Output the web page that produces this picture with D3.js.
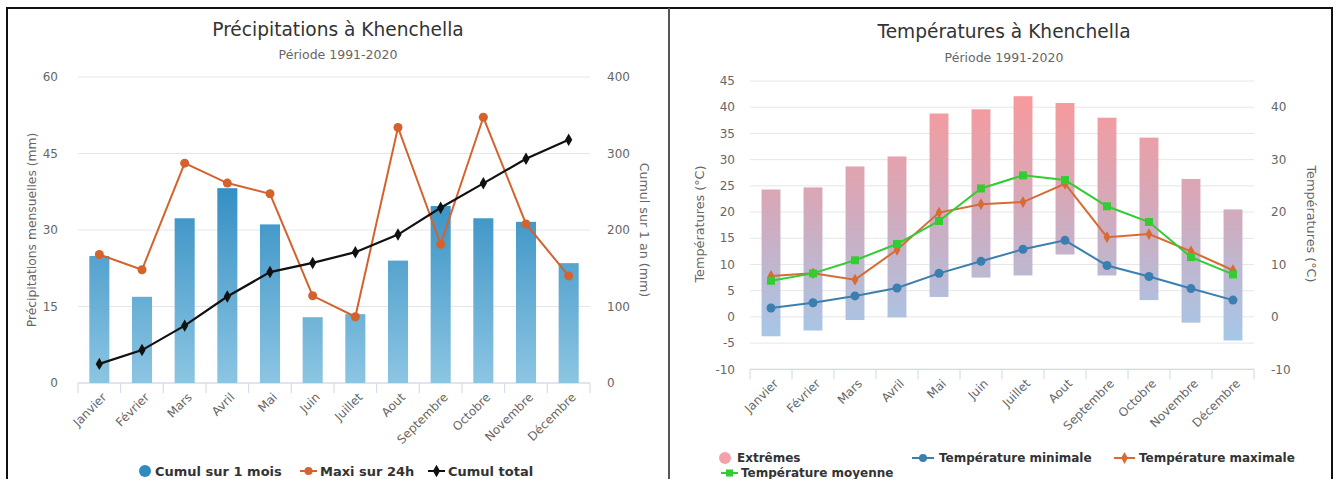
<!DOCTYPE html>
<html lang="fr">
<head>
<meta charset="utf-8">
<script src="https://cdn.jsdelivr.net/npm/d3@7"></script>
<style>
  html, body { margin: 0; padding: 0; background: #fff; }
  svg { display: block; font-family: "DejaVu Sans", Verdana, sans-serif; }
</style>
</head>
<body>
<svg id="chart" width="1339" height="479"></svg>
<script>
// Mois et valeurs climatiques de Khenchella (1991-2020)
const months = ["Janvier","Février","Mars","Avril","Mai","Juin","Juillet","Aout","Septembre","Octobre","Novembre","Décembre"];

// Précipitations (mm)
const cumulMois  = [24.9, 16.9, 32.3, 38.2, 31.1, 12.9, 13.5, 24.0, 34.7, 32.3, 31.6, 23.5];
const maxi24h    = [25.2, 22.2, 43.1, 39.2, 37.1, 17.1, 13.0, 50.1, 27.2, 52.1, 31.2, 21.0];
const cumulTotal = [25, 43, 75, 113, 145, 157, 171, 194, 229, 261, 293, 318];
const precipTicks = [0, 15, 30, 45, 60];
const cumulTicks  = [0, 100, 200, 300, 400];

// Températures (°C)
const extHigh = [24.3, 24.7, 28.7, 30.6, 38.8, 39.6, 42.1, 40.8, 38.0, 34.2, 26.3, 20.5];
const extLow  = [-3.7, -2.6, -0.6, -0.1, 3.8, 7.5, 7.9, 11.9, 7.9, 3.2, -1.1, -4.5];
const tMin    = [1.7, 2.7, 4.0, 5.5, 8.3, 10.6, 12.9, 14.6, 9.8, 7.7, 5.4, 3.2];
const tMax    = [7.8, 8.3, 7.1, 12.8, 19.9, 21.5, 21.9, 25.4, 15.2, 15.8, 12.5, 8.9];
const tMoy    = [6.9, 8.3, 10.8, 13.9, 18.3, 24.5, 27.0, 26.1, 21.1, 18.1, 11.4, 8.1];
const tempTicksLeft  = [-10, -5, 0, 5, 10, 15, 20, 25, 30, 35, 40, 45];
const tempTicksRight = [-10, 0, 10, 20, 30, 40];

const svg = d3.select("#chart");
const defs = svg.append("defs");

const C = {
  grid: "#e6e6e6", axis: "#ccd6eb", label: "#666", title: "#333",
  blue: "#3a8fc2", orange: "#d4622c", black: "#111",
  tMin: "#3b7fb0", tMax: "#d86a33", tMoy: "#33cc33", ext: "#f29ba2"
};

// Cadres des deux panneaux
svg.append("rect").attr("x", 7).attr("y", 8).attr("width", 662).attr("height", 480)
  .attr("fill", "none").attr("stroke", "#111").attr("stroke-width", 2);
svg.append("rect").attr("x", 669).attr("y", 8).attr("width", 663).attr("height", 480)
  .attr("fill", "none").attr("stroke", "#111").attr("stroke-width", 2);
svg.append("line").attr("x1", 669).attr("x2", 669).attr("y1", 8).attr("y2", 479)
  .attr("stroke", "#555").attr("stroke-width", 2);

function titles(cx, title, ty, sy) {
  svg.append("text").attr("x", cx).attr("y", ty).attr("text-anchor", "middle")
    .attr("font-size", 18.6).attr("fill", C.title).text(title);
  svg.append("text").attr("x", cx).attr("y", sy).attr("text-anchor", "middle")
    .attr("font-size", 12.5).attr("fill", C.label).text("Période 1991-2020");
}

function xAxis(x, y0) {
  const g = svg.append("g");
  const [r0, r1] = x.range();
  g.append("line").attr("x1", r0).attr("x2", r1).attr("y1", y0).attr("y2", y0)
    .attr("stroke", C.axis);
  const bounds = months.map(m => x(m)).concat([r1]);
  g.selectAll("line.tk").data(bounds).join("line").attr("class", "tk")
    .attr("x1", d => d).attr("x2", d => d).attr("y1", y0).attr("y2", y0 + 10)
    .attr("stroke", C.axis);
  g.selectAll("text").data(months).join("text")
    .attr("transform", d => `translate(${x(d) + x.bandwidth() / 2 + 5},${y0 + 12}) rotate(-45)`)
    .attr("text-anchor", "end").attr("font-size", 12).attr("fill", C.label)
    .attr("dy", "0.35em").text(d => d);
}

function grid(ticks, y, x) {
  const [r0, r1] = x.range();
  svg.append("g").selectAll("line").data(ticks).join("line")
    .attr("x1", r0).attr("x2", r1).attr("y1", d => y(d)).attr("y2", d => y(d))
    .attr("stroke", C.grid);
}

function yLabels(ticks, y, xPos, anchor) {
  svg.append("g").selectAll("text").data(ticks).join("text")
    .attr("x", xPos).attr("y", d => y(d)).attr("dy", "0.35em")
    .attr("text-anchor", anchor).attr("font-size", 12).attr("fill", C.label)
    .text(d => d);
}

function yTitle(cx, cy, rot, label, size) {
  svg.append("text").attr("transform", `translate(${cx},${cy}) rotate(${rot})`)
    .attr("text-anchor", "middle").attr("dy", "0.35em").attr("font-size", size)
    .attr("fill", C.label).text(label);
}

const diamond = d3.symbol().type(d3.symbolDiamond);
const square = d3.symbol().type(d3.symbolSquare);

/* ---------- Précipitations ---------- */
{
  const x = d3.scaleBand().domain(months).range([78, 590]);
  const y = d3.scaleLinear().domain([0, 60]).range([383, 77]);
  const y2 = d3.scaleLinear().domain([0, 400]).range([383, 77]);
  const cx = d => x(d) + x.bandwidth() / 2;

  titles(338, "Précipitations à Khenchella", 36, 59);
  grid(precipTicks, y, x);
  xAxis(x, 383);
  yLabels(precipTicks, y, 58, "end");
  yLabels(cumulTicks, y2, 607, "start");
  yTitle(32, 230, -90, "Précipitations mensuelles (mm)", 12.3);
  yTitle(644, 230, 90, "Cumul sur 1 an (mm)", 12.6);

  const gr = defs.append("linearGradient").attr("id", "gPrecip")
    .attr("gradientUnits", "userSpaceOnUse").attr("x1", 0).attr("x2", 0)
    .attr("y1", y(40)).attr("y2", y(0));
  gr.append("stop").attr("offset", 0).attr("stop-color", "#318dc2");
  gr.append("stop").attr("offset", 1).attr("stop-color", "#8cc5e2");

  const bw = x.bandwidth() * 0.47;
  svg.append("g").selectAll("rect").data(months).join("rect")
    .attr("x", (d) => cx(d) - bw / 2).attr("width", bw)
    .attr("y", (d, i) => y(cumulMois[i])).attr("height", (d, i) => y(0) - y(cumulMois[i]))
    .attr("fill", "url(#gPrecip)");

  const lineMaxi = d3.line().x((d, i) => cx(months[i])).y(d => y(d));
  svg.append("path").attr("d", lineMaxi(maxi24h)).attr("fill", "none")
    .attr("stroke", C.orange).attr("stroke-width", 2);
  svg.append("g").selectAll("circle").data(maxi24h).join("circle")
    .attr("cx", (d, i) => cx(months[i])).attr("cy", d => y(d)).attr("r", 4.5)
    .attr("fill", C.orange);

  const lineCumul = d3.line().x((d, i) => cx(months[i])).y(d => y2(d));
  svg.append("path").attr("d", lineCumul(cumulTotal)).attr("fill", "none")
    .attr("stroke", C.black).attr("stroke-width", 2.2);
  svg.append("g").selectAll("path").data(cumulTotal).join("path")
    .attr("transform", (d, i) => `translate(${cx(months[i])},${y2(d)})`)
    .attr("d", diamond.size(45)).attr("fill", C.black);

  // Légende
  const lg = svg.append("g").attr("font-size", 13).attr("font-weight", "bold").attr("fill", C.title);
  const ly = 471;
  lg.append("circle").attr("cx", 145).attr("cy", ly).attr("r", 6).attr("fill", "#2d8bc0");
  lg.append("text").attr("x", 155).attr("y", ly).attr("dy", "0.35em").text("Cumul sur 1 mois");
  lg.append("line").attr("x1", 300).attr("x2", 317).attr("y1", ly).attr("y2", ly)
    .attr("stroke", C.orange).attr("stroke-width", 2);
  lg.append("circle").attr("cx", 308.5).attr("cy", ly).attr("r", 4).attr("fill", C.orange);
  lg.append("text").attr("x", 320).attr("y", ly).attr("dy", "0.35em").text("Maxi sur 24h");
  lg.append("line").attr("x1", 428).attr("x2", 445).attr("y1", ly).attr("y2", ly)
    .attr("stroke", C.black).attr("stroke-width", 2);
  lg.append("path").attr("transform", `translate(436.5,${ly})`).attr("d", diamond.size(45)).attr("fill", C.black);
  lg.append("text").attr("x", 448).attr("y", ly).attr("dy", "0.35em").text("Cumul total");
}

/* ---------- Températures ---------- */
{
  const x = d3.scaleBand().domain(months).range([750, 1254]);
  const y = d3.scaleLinear().domain([-10, 45]).range([369.3, 81]);
  const cx = d => x(d) + x.bandwidth() / 2;

  titles(1004, "Températures à Khenchella", 38, 62);
  grid(tempTicksLeft, y, x);
  xAxis(x, y(-10));
  yLabels(tempTicksLeft, y, 735, "end");
  yLabels(tempTicksRight, y, 1271, "start");
  yTitle(700, 224, -90, "Températures (°C)", 12.8);
  yTitle(1311, 224, 90, "Températures (°C)", 12.8);

  const gr = defs.append("linearGradient").attr("id", "gExt")
    .attr("gradientUnits", "userSpaceOnUse").attr("x1", 0).attr("x2", 0)
    .attr("y1", y(42)).attr("y2", y(-5));
  gr.append("stop").attr("offset", 0).attr("stop-color", "#f79a9c");
  gr.append("stop").attr("offset", 0.45).attr("stop-color", "#d4a9bb");
  gr.append("stop").attr("offset", 1).attr("stop-color", "#a4c8e9");

  const bw = x.bandwidth() * 0.45;
  svg.append("g").selectAll("rect").data(months).join("rect")
    .attr("x", d => cx(d) - bw / 2).attr("width", bw)
    .attr("y", (d, i) => y(extHigh[i])).attr("height", (d, i) => y(extLow[i]) - y(extHigh[i]))
    .attr("fill", "url(#gExt)");

  const line = d3.line().x((d, i) => cx(months[i])).y(d => y(d));

  svg.append("path").attr("d", line(tMin)).attr("fill", "none")
    .attr("stroke", C.tMin).attr("stroke-width", 2);
  svg.append("g").selectAll("circle").data(tMin).join("circle")
    .attr("cx", (d, i) => cx(months[i])).attr("cy", d => y(d)).attr("r", 4.5)
    .attr("fill", C.tMin);

  svg.append("path").attr("d", line(tMax)).attr("fill", "none")
    .attr("stroke", C.tMax).attr("stroke-width", 2);
  svg.append("g").selectAll("path").data(tMax).join("path")
    .attr("transform", (d, i) => `translate(${cx(months[i])},${y(d)})`)
    .attr("d", diamond.size(40)).attr("fill", C.tMax);

  svg.append("path").attr("d", line(tMoy)).attr("fill", "none")
    .attr("stroke", C.tMoy).attr("stroke-width", 2);
  svg.append("g").selectAll("path").data(tMoy).join("path")
    .attr("transform", (d, i) => `translate(${cx(months[i])},${y(d)})`)
    .attr("d", square.size(64)).attr("fill", C.tMoy);

  // Légende
  const lg = svg.append("g").attr("font-size", 12).attr("font-weight", "bold").attr("fill", C.title);
  const r1 = 458, r2 = 473;
  lg.append("circle").attr("cx", 725).attr("cy", r1).attr("r", 6).attr("fill", "#f2a1a8");
  lg.append("text").attr("x", 737).attr("y", r1).attr("dy", "0.35em").text("Extrêmes");
  lg.append("line").attr("x1", 912).attr("x2", 934).attr("y1", r1).attr("y2", r1)
    .attr("stroke", C.tMin).attr("stroke-width", 2);
  lg.append("circle").attr("cx", 923).attr("cy", r1).attr("r", 4).attr("fill", C.tMin);
  lg.append("text").attr("x", 939).attr("y", r1).attr("dy", "0.35em").text("Température minimale");
  lg.append("line").attr("x1", 1114).attr("x2", 1135).attr("y1", r1).attr("y2", r1)
    .attr("stroke", C.tMax).attr("stroke-width", 2);
  lg.append("path").attr("transform", `translate(1124.5,${r1})`).attr("d", diamond.size(40)).attr("fill", C.tMax);
  lg.append("text").attr("x", 1139).attr("y", r1).attr("dy", "0.35em").text("Température maximale");
  lg.append("line").attr("x1", 721).attr("x2", 738).attr("y1", r2).attr("y2", r2)
    .attr("stroke", C.tMoy).attr("stroke-width", 2);
  lg.append("path").attr("transform", `translate(729.5,${r2})`).attr("d", square.size(50)).attr("fill", C.tMoy);
  lg.append("text").attr("x", 741).attr("y", r2).attr("dy", "0.35em").text("Température moyenne");
}
</script>
</body>
</html>
